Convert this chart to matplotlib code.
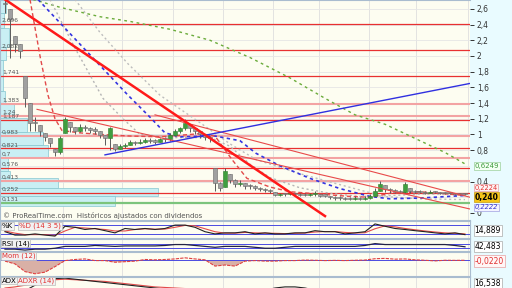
import numpy as np
import matplotlib.pyplot as plt
from matplotlib.ticker import FuncFormatter
import matplotlib.transforms as mtrans

# ---- price bars (one every 5 units of the time axis) ----
bar_x = np.arange(5, 470, 5)
close = [2.66, 2.47, 2.15, 2.06, 1.46, 1.14, 1.14, 1.05, 0.97, 0.89,
         0.78, 0.95, 1.20, 1.10, 1.04, 1.10, 1.08, 1.06, 1.05, 0.99,
         0.95, 1.08, 0.82, 0.85, 0.86, 0.90, 0.89, 0.91, 0.92, 0.92,
         0.91, 0.94, 0.94, 0.99, 1.04, 1.08, 1.15, 1.08, 1.04, 1.00,
         0.97, 0.95, 0.38, 0.32, 0.54, 0.42, 0.37, 0.38, 0.34, 0.34,
         0.32, 0.30, 0.29, 0.28, 0.23, 0.24, 0.24, 0.25, 0.24, 0.23,
         0.23, 0.24, 0.25, 0.22, 0.22, 0.20, 0.19, 0.19, 0.18, 0.18,
         0.19, 0.18, 0.19, 0.22, 0.28, 0.37, 0.30, 0.29, 0.27, 0.27,
         0.37, 0.28, 0.27, 0.27, 0.25, 0.27, 0.27, 0.25, 0.25, 0.25,
         0.24, 0.24, 0.24]
high = [2.72, 2.60, 2.25, 2.15, 1.75, 1.40, 1.22, 1.12, 1.02, 0.95,
        0.82, 0.98, 1.22, 1.16, 1.10, 1.13, 1.12, 1.10, 1.09, 1.05,
        0.99, 1.10, 0.88, 0.88, 0.89, 0.93, 0.92, 0.94, 0.95, 0.95,
        0.94, 0.96, 0.97, 1.02, 1.07, 1.10, 1.20, 1.13, 1.08, 1.04,
        1.00, 0.98, 0.57, 0.40, 0.57, 0.50, 0.43, 0.42, 0.38, 0.37,
        0.35, 0.33, 0.32, 0.30, 0.27, 0.26, 0.26, 0.27, 0.26, 0.25,
        0.25, 0.26, 0.28, 0.24, 0.24, 0.22, 0.21, 0.21, 0.20, 0.20,
        0.21, 0.20, 0.21, 0.24, 0.32, 0.41, 0.36, 0.32, 0.30, 0.29,
        0.40, 0.32, 0.29, 0.29, 0.28, 0.29, 0.28, 0.27, 0.27, 0.27,
        0.26, 0.26, 0.26]
low = [2.55, 1.98, 2.05, 1.98, 1.35, 1.05, 1.05, 0.98, 0.92, 0.84,
       0.72, 0.75, 1.02, 1.03, 1.00, 1.03, 1.04, 1.02, 1.01, 0.95,
       0.86, 0.80, 0.79, 0.81, 0.83, 0.86, 0.86, 0.88, 0.89, 0.89,
       0.88, 0.90, 0.91, 0.92, 0.98, 1.02, 1.06, 1.03, 1.00, 0.96,
       0.93, 0.91, 0.28, 0.28, 0.33, 0.38, 0.33, 0.34, 0.31, 0.31,
       0.29, 0.28, 0.27, 0.25, 0.21, 0.22, 0.22, 0.23, 0.22, 0.21,
       0.21, 0.22, 0.22, 0.20, 0.20, 0.18, 0.17, 0.17, 0.16, 0.16,
       0.17, 0.16, 0.17, 0.18, 0.20, 0.28, 0.27, 0.26, 0.25, 0.25,
       0.26, 0.26, 0.25, 0.25, 0.24, 0.25, 0.25, 0.24, 0.24, 0.24,
       0.23, 0.23, 0.23]

# ---- moving averages ----
ma_green_x = [33, 60, 100, 130, 170, 210, 250, 290, 325, 355, 385, 420, 445, 465]
ma_green = [2.72, 2.62, 2.50, 2.44, 2.34, 2.20, 1.98, 1.72, 1.46, 1.25, 1.13, 0.92, 0.77, 0.6249]
ma_blue_x = [38, 80, 128, 150, 165, 180, 215, 240, 256, 280, 310, 340, 370, 390, 420, 465]
ma_blue = [2.72, 2.15, 1.50, 1.22, 1.02, 0.97, 0.98, 0.92, 0.76, 0.60, 0.44, 0.31, 0.21, 0.18, 0.19, 0.2222]
ma_gray1_x = [50, 75, 103, 123, 140, 175, 210, 230, 250, 270, 300, 330, 360, 390, 420, 465]
ma_gray1 = [2.72, 2.10, 1.46, 1.20, 1.00, 0.96, 0.96, 0.85, 0.62, 0.45, 0.32, 0.25, 0.21, 0.22, 0.24, 0.24]
ma_gray2_x = [75, 100, 128, 160, 200, 230, 256, 300, 340, 384, 420, 465]
ma_gray2 = [2.72, 2.30, 1.90, 1.50, 1.15, 0.88, 0.68, 0.50, 0.36, 0.21, 0.18, 0.17]
ma_red_x = [30, 40, 48, 55, 62, 80, 100, 130, 160, 200, 215, 232, 247, 270, 290, 320, 350, 370, 390, 420, 465]
ma_red = [2.72, 2.00, 1.50, 1.20, 1.05, 1.02, 1.00, 0.98, 0.97, 1.01, 0.98, 0.68, 0.44, 0.33, 0.27, 0.24, 0.21, 0.20, 0.25, 0.27, 0.2224]

# ---- trend lines (x pairs, price pairs) ----
trend_thick_x, trend_thick = [5, 325], [2.72, -0.04]
trend_blue_x, trend_blue = [105, 470], [0.74, 1.65]
trend_a_x, trend_a = [155, 470], [1.25, 0.20]
trend_b_x, trend_b = [37, 470], [1.32, 0.05]

# ---- support / resistance levels and left labels ----
levels = [2.41, 2.082, 1.741, 1.383, 1.24, 1.187, 0.983, 0.821, 0.7, 0.576, 0.413, 0.252]
level_labels = ['2,696', '2,082', '1,741', '1,383', '1,24', '1,187', '0,983',
                '0,821', '0,7', '0,576', '0,413', '0,252']
level_pink = [False, False, False, True, True, False, True, False, True, False, True, False]
green_level = 0.131

# ---- volume by price (bin low, bin high, volume) ----
vp_lo = [2.55, 2.35, 2.12, 1.95, 1.75, 1.55, 1.40, 1.21, 1.03, 0.87, 0.70, 0.53, 0.44, 0.32, 0.22, 0.09]
vp_hi = [2.72, 2.55, 2.35, 2.12, 1.95, 1.75, 1.55, 1.40, 1.21, 1.03, 0.87, 0.70, 0.53, 0.44, 0.32, 0.22]
vp_vol = [6, 4, 9, 6, 3, 3, 5, 14, 27, 43, 48, 8, 10, 58, 158, 115]

# ---- indicators (one value every 10 units) ----
ind_x = np.arange(5, 470, 10)
stoch_k = [35, 12, 12, 20, 12, 5, 72, 65, 50, 57, 42, 27, 57, 50, 57, 50, 57, 80, 80, 65,
           35, 20, 27, 27, 35, 20, 27, 20, 20, 27, 27, 42, 35, 35, 20, 27, 35, 88, 72, 57,
           50, 42, 35, 27, 20, 27, 14.889]
stoch_d = [40, 25, 15, 15, 15, 10, 40, 65, 60, 55, 50, 40, 40, 50, 55, 52, 53, 65, 78, 75,
           55, 35, 25, 25, 30, 27, 25, 24, 22, 24, 26, 33, 36, 36, 30, 26, 28, 55, 75, 68,
           57, 48, 40, 33, 27, 24, 20]
rsi = [22, 22, 14, 22, 22, 30, 46, 46, 46, 54, 50, 46, 50, 50, 50, 50, 54, 62, 62, 54,
       46, 38, 46, 46, 46, 38, 30, 30, 38, 46, 46, 46, 46, 46, 46, 46, 54, 70, 62, 62,
       62, 62, 62, 62, 62, 54, 42.483]
mom = [-0.1, -0.35, -1.05, -1.25, -1.10, -0.60, -0.05, 0.05, 0.1, -0.05, -0.05, -0.2, -0.15,
       -0.1, 0.05, 0.02, 0.05, 0.1, 0.2, 0.1, 0.02, -0.55, -0.45, -0.55, -0.1, -0.05, -0.1,
       -0.1, -0.05, -0.05, 0.0, -0.02, -0.05, -0.03, -0.05, -0.02, 0.0, 0.12, 0.15, 0.08,
       0.1, 0.02, -0.02, -0.08, -0.02, -0.03, -0.022]
adx = [28, 30, 35, 45, 52, 57, 58, 56, 54, 52, 50, 48, 46, 44, 42, 40, 38, 37, 36, 35,
       34, 33, 34, 33, 32, 31, 36, 40, 42, 42, 40, 36, 32, 28, 25, 22, 20, 22, 24, 23,
       22, 21, 20, 19, 18, 17, 16.538]
adxr = [40, 42, 45, 48, 52, 55, 56, 55, 54, 53, 52, 50, 48, 46, 44, 42, 41, 40, 39, 38,
        37, 36, 35, 34, 33, 32, 32, 33, 34, 35, 36, 37, 36, 34, 32, 30, 28, 26, 25, 24,
        23, 22, 21, 20, 20, 19, 19]

grid_x = [63, 122, 173, 223, 273, 319, 369, 416, 468]

W, H = 512, 288
plt.rcParams['font.family'] = ['DejaVu Sans']
fig = plt.figure(figsize=(W / 100, H / 100), dpi=100, facecolor='#e9fbff')


def panel(top, bottom):
    a = fig.add_axes([0, 1 - bottom / H, 470 / W, (bottom - top) / H])
    a.set_facecolor('#fdfdf1')
    a.set_xlim(0, 470)
    for s in a.spines.values():
        s.set_color('#a9bccf')
        s.set_linewidth(0.8)
    for gx in grid_x:
        a.axvline(gx, color='#dedede', lw=0.6, zorder=0)
    return a


def comma(v, fmt):
    return (fmt % v).replace('.', ',')


# ---------------- main price panel ----------------
ax = panel(0, 220)
ax.set_ylim(-0.09, 2.713)
for gy in np.arange(0.2, 2.7, 0.2):
    ax.axhline(gy, color='#e6e6e6', lw=0.6, zorder=0)

vp_lo_a, vp_hi_a = np.array(vp_lo), np.array(vp_hi)
ax.barh((vp_lo_a + vp_hi_a) / 2, vp_vol, height=vp_hi_a - vp_lo_a, left=0,
        color='#c9eff4', edgecolor='#86c6d0', lw=0.5, zorder=1)

for lv, pink in zip(levels, level_pink):
    if pink:
        ax.axhline(lv, color='#f3a3a3', lw=1.5, zorder=2)
    else:
        ax.axhline(lv, color='#e83030', lw=0.9, zorder=2)
ax.axhline(green_level, color='#7cc47c', lw=1.6, zorder=2)
for lv, lab in zip(levels + [green_level], level_labels + ['0,131']):
    ax.text(2, lv + 0.015, lab, fontsize=4.3, color='#555555', va='bottom', zorder=8)

# candles
opens = np.clip(np.r_[close[0], close[:-1]], low, high)
cl = np.array(close)
up = cl > opens
ax.vlines(bar_x, low, high, color='#5a5a5a', lw=0.7, zorder=5)
ax.bar(bar_x, np.maximum(np.abs(cl - opens), 0.015), bottom=np.minimum(cl, opens), width=4,
       color=np.where(up, '#3f9f3f', '#a0a0a0'), edgecolor=np.where(up, '#2f7f2f', '#666666'),
       lw=0.4, zorder=5)

# moving averages
ax.plot(ma_green_x, ma_green, color='#6aab3a', lw=1.0, dashes=(2, 2.5), zorder=4)
ax.plot(ma_gray2_x, ma_gray2, color='#bdbdbd', lw=1.0, dashes=(1.5, 2), zorder=4)
ax.plot(ma_gray1_x, ma_gray1, color='#b5b5b5', lw=1.0, dashes=(1.5, 2), zorder=4)
ax.plot(ma_blue_x, ma_blue, color='#3434e0', lw=1.2, dashes=(2, 2), zorder=4)
ax.plot(ma_red_x, ma_red, color='#e24a4a', lw=1.0, dashes=(3, 2), zorder=4)

# trend lines
ax.plot(trend_a_x, trend_a, color='#e84a4a', lw=0.8, zorder=6)
ax.plot(trend_b_x, trend_b, color='#e84a4a', lw=0.8, zorder=6)
ax.plot(trend_blue_x, trend_blue, color='#3030e0', lw=1.0, zorder=6)
ax.plot(trend_thick_x, trend_thick, color='#ff1a1a', lw=1.8, zorder=7)

# right axis
ax.yaxis.tick_right()
ax.set_yticks([0, 0.4, 0.8, 1, 1.2, 1.4, 1.6, 1.8, 2, 2.2, 2.4, 2.6])
ax.yaxis.set_major_formatter(FuncFormatter(lambda v, _: comma(v, '%g')))
ax.tick_params(axis='y', length=3, width=0.7, pad=2, labelsize=5.5, colors='#333333')
ax.set_xticks([])
ax.spines['right'].set_visible(False)

tr = mtrans.blended_transform_factory(ax.transAxes, ax.transData)
ax.text(1.01, 0.60, comma(ma_green[-1], '%.4f'), transform=tr, fontsize=5, color='#3a9a3a',
        va='center', bbox=dict(fc='#f4fff4', ec='#9cd09c', lw=0.5, pad=0.8), clip_on=False)
ax.text(1.01, 0.32, comma(ma_red[-1], '%.4f'), transform=tr, fontsize=4.8, color='#e03030',
        va='center', bbox=dict(fc='#fff4f4', ec='#e8a0a0', lw=0.5, pad=0.4), clip_on=False)
ax.text(1.01, 0.07, comma(ma_blue[-1], '%.4f'), transform=tr, fontsize=4.8, color='#3030d0',
        style='italic', va='center', bbox=dict(fc='#f4f4ff', ec='#a0a0e0', lw=0.5, pad=0.4),
        clip_on=False)
ax.text(1.01, 0.20, comma(close[-1], '%.3f'), transform=tr, fontsize=5.5, color='black',
        weight='bold', va='center', bbox=dict(fc='#f5c518', ec='#c89a10', lw=0.5, pad=0.5),
        clip_on=False, zorder=9)
ax.text(3, -0.03, '© ProRealTime.com  Históricos ajustados con dividendos', fontsize=5,
        color='#555555', va='center', zorder=8)

box = dict(fc='#f2f2f2', ec='#bbbbbb', lw=0.5, pad=0.5)
vbox = dict(fc='white', ec='#aaaaaa', lw=0.5, pad=0.8)

# ---------------- stochastic ----------------
ax1 = panel(221, 238)
ax1.set_ylim(-8, 108)
ax1.axhline(80, color='#4a4ae0', lw=0.7)
ax1.axhline(20, color='#4a4ae0', lw=0.7)
ax1.plot(ind_x, stoch_d, color='#e24a4a', lw=0.8)
ax1.plot(ind_x, stoch_k, color='#222222', lw=0.8)
ax1.text(2, 95, '%K', fontsize=5, color='black', va='top', bbox=box, zorder=8)
ax1.text(19, 95, '%D (14 3 5)', fontsize=5, color='#e03030', va='top', bbox=box, zorder=8)
ax1.text(1.01, 0.45, comma(stoch_k[-1], '%.3f'), transform=ax1.transAxes, fontsize=5.5,
         va='center', bbox=vbox, clip_on=False)

# ---------------- RSI ----------------
ax2 = panel(239, 251)
ax2.set_ylim(6, 110)
ax2.axhline(70, color='#4a4ae0', lw=0.7)
ax2.axhline(30, color='#4a4ae0', lw=0.7)
ax2.plot(ind_x, rsi, color='#222244', lw=0.9)
ax2.text(2, 100, 'RSI (14)', fontsize=5, color='black', va='top', bbox=box, zorder=8)
ax2.text(1.01, 0.35, comma(rsi[-1], '%.3f'), transform=ax2.transAxes, fontsize=5.5,
         va='center', bbox=vbox, clip_on=False)

# ---------------- momentum ----------------
ax3 = panel(252, 276)
ax3.set_ylim(-1.45, 0.73)
mom_a = np.array(mom)
ax3.fill_between(ind_x, mom_a, 0, where=mom_a < 0, interpolate=True, color='#d9b0a6', lw=0)
ax3.axhline(0, color='#4a4ae0', lw=0.7)
ax3.plot(ind_x, mom, color='#e04040', lw=0.8, dashes=(3, 1))
ax3.text(2, 0.65, 'Mom (12)', fontsize=5, color='#e03030', va='top', bbox=box, zorder=8)
ax3.text(1.01, 0.62, comma(mom[-1], '%.4f'), transform=ax3.transAxes, fontsize=5.5,
         color='#e03030', va='center', bbox=dict(fc='#fff6f6', ec='#e8a0a0', lw=0.5, pad=0.8),
         clip_on=False)

# ---------------- ADX ----------------
ax4 = panel(277, 310)
ax4.set_ylim(0, 60)
ax4.plot(ind_x, adxr, color='#e24a4a', lw=0.8)
ax4.plot(ind_x, adx, color='#222222', lw=0.8)
ax4.text(2, 59, 'ADX', fontsize=5, color='black', va='top', bbox=box, zorder=8)
ax4.text(18, 59, 'ADXR (14)', fontsize=5, color='#e03030', va='top', bbox=box, zorder=8)
ax4.text(1.01, 0.8, comma(adx[-1], '%.3f'), transform=ax4.transAxes, fontsize=5.5,
         va='center', bbox=vbox, clip_on=False)

for a in (ax1, ax2, ax3, ax4):
    a.set_xticks([])
    a.set_yticks([])

fig.savefig('out.png', dpi=100, facecolor=fig.get_facecolor())
